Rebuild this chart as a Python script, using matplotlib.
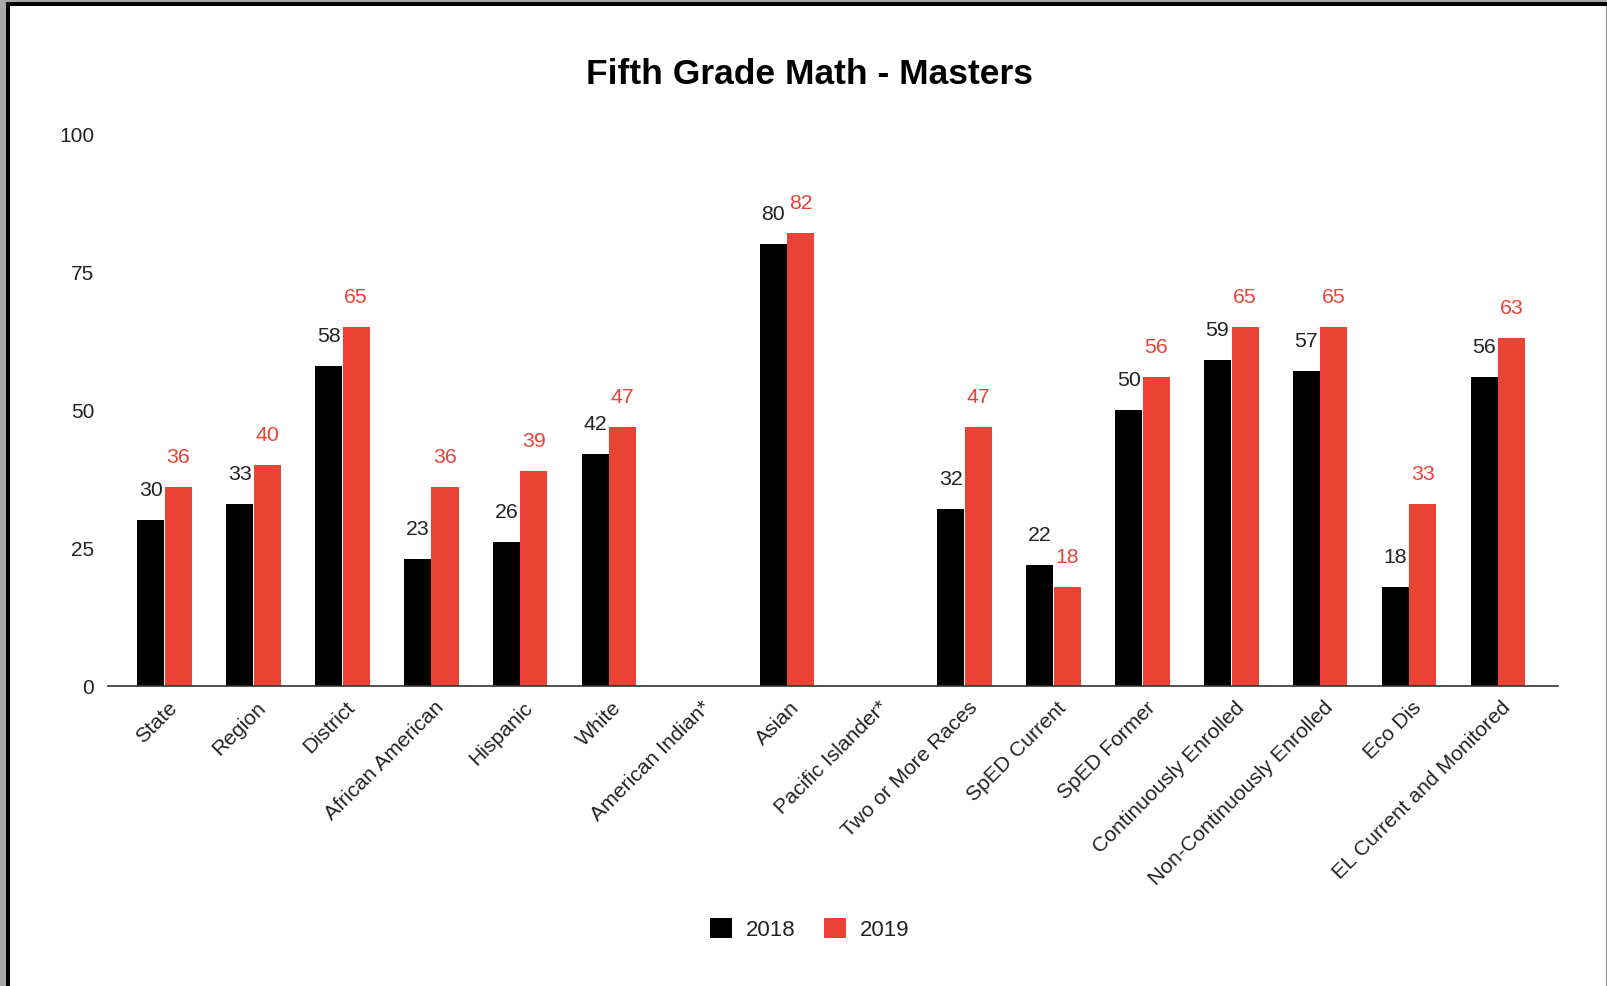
import matplotlib
matplotlib.use("Agg")
import matplotlib.pyplot as plt
from matplotlib.patches import Rectangle, Patch
from matplotlib.transforms import ScaledTranslation
import numpy as np

categories = ["State", "Region", "District", "African American", "Hispanic", "White",
              "American Indian*", "Asian", "Pacific Islander*", "Two or More Races",
              "SpED Current", "SpED Former", "Continuously Enrolled",
              "Non-Continuously Enrolled", "Eco Dis", "EL Current and Monitored"]
values_2018 = [30, 33, 58, 23, 26, 42, None, 80, None, 32, 22, 50, 59, 57, 18, 56]
values_2019 = [36, 40, 65, 36, 39, 47, None, 82, None, 47, 18, 56, 65, 65, 33, 63]
series_names = ["2018", "2019"]
y_ticks = [0, 25, 50, 75, 100]

BLACK = "#000000"
RED = "#ea4335"
TEXT = "#222222"

plt.rcParams["font.family"] = ["Liberation Sans", "DejaVu Sans"]

W, H = 1608, 987
fig = plt.figure(figsize=(W / 100, H / 100), dpi=100)
fig.patch.set_facecolor("white")

# window frame around the chart
frame = [
    (0, 0, 6 / W, 1, "#a9a9a9"),
    (6 / W, 0, 4 / W, 1 - 3 / H, "#000000"),
    (0, 1 - 3 / H, 1, 3 / H, "#a9a9a9"),
    (6 / W, 1 - 7 / H, 1 - 6 / W, 4 / H, "#000000"),
    (1 - 2 / W, 0, 2 / W, 1 - 7 / H, "#8a8a8a"),
]
for x0, y0, w, h, c in frame:
    fig.add_artist(Rectangle((x0, y0), w, h, transform=fig.transFigure,
                             facecolor=c, edgecolor="none", zorder=10))

ax = fig.add_axes([108 / W, 1 - 687 / H, (1558 - 108) / W, (687 - 135) / H])

x = np.arange(len(categories))
bw = 0.304
gap = 0.006

def clean(vals):
    return [np.nan if v is None else v for v in vals]

b18 = ax.bar(x - bw / 2 - gap / 2, clean(values_2018), width=bw, color=BLACK, zorder=2)
b19 = ax.bar(x + bw / 2 + gap / 2, clean(values_2019), width=bw, color=RED, zorder=2)

for bars, vals, col in ((b18, values_2018, TEXT), (b19, values_2019, RED)):
    for rect, v in zip(bars, vals):
        if v is None:
            continue
        ax.annotate(f"{v}", (rect.get_x() + rect.get_width() / 2, v),
                    xytext=(0, 18), textcoords="offset points",
                    ha="center", va="baseline", fontsize=15.3, color=col)

ax.set_xlim(-0.636, 15.675)
ax.set_ylim(0, 100)
ax.set_yticks(y_ticks)
ax.set_yticklabels([str(t) for t in y_ticks])
ax.tick_params(axis="y", length=0, pad=10, labelsize=15, labelcolor=TEXT)
ax.set_xticks(x)
ax.set_xticklabels(categories, rotation=45, ha="right", va="top",
                   rotation_mode="anchor", fontsize=15.2, color=TEXT)
ax.tick_params(axis="x", length=0, pad=0)
offset = ScaledTranslation(3 / 100, -11 / 100, fig.dpi_scale_trans)
for lbl in ax.get_xticklabels():
    lbl.set_transform(lbl.get_transform() + offset)

for side in ("top", "right", "left"):
    ax.spines[side].set_visible(False)
ax.spines["bottom"].set_color("#333333")
ax.spines["bottom"].set_linewidth(1.2)

fig.text(809.5 / W, 1 - 74 / H, "Fifth Grade Math - Masters", ha="center", va="center",
         fontsize=25.5, fontweight="bold", color="#000000")

handles = [Patch(facecolor=BLACK, edgecolor="none"), Patch(facecolor=RED, edgecolor="none")]
fig.legend(handles, series_names, loc="center", bbox_to_anchor=(809.5 / W, 1 - 930 / H),
           ncol=2, frameon=False, fontsize=16, handlelength=1.0, handleheight=1.0,
           handletextpad=0.6, columnspacing=1.3, labelcolor=TEXT)

fig.savefig("out.png", dpi=100, facecolor="white")
